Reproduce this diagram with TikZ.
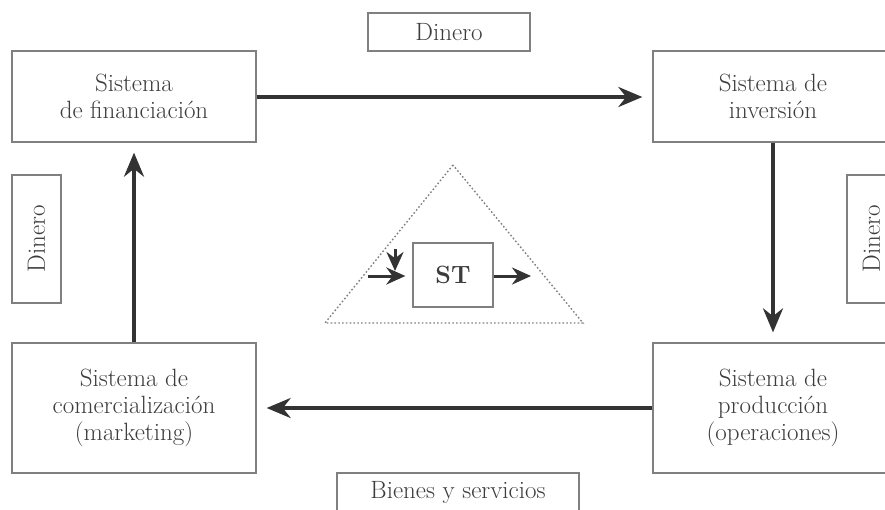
\documentclass[tikz,border=0pt]{standalone}
\usepackage{fontspec}
\setmainfont{Latin Modern Roman}
\usetikzlibrary{arrows.meta}
\definecolor{boxline}{HTML}{808080}
\definecolor{txt}{HTML}{3C3C3C}
\definecolor{arr}{HTML}{333333}
\begin{document}
\begin{tikzpicture}[x=1pt,y=-1pt,
  sysbox/.style={draw=boxline,line width=1.3pt,inner sep=0pt,align=center,text=txt,
    font=\fontsize{25}{27}\selectfont},
  labbox/.style={draw=boxline,line width=1.3pt,inner sep=0pt,align=center,text=txt,
    font=\fontsize{25}{27}\selectfont},
  bigarrow/.style={draw=arr,line width=3.6pt,-{Stealth[length=24pt,width=20pt]},shorten >=10pt},
  smallarrow/.style={draw=arr,line width=3pt,-{Stealth[length=19pt,width=17pt]}}]
\useasboundingbox (0,0) rectangle (885,509);
\clip (0,0) rectangle (885,509);
\node[sysbox,minimum width=244pt,minimum height=91pt] (fin) at (134,96.5) {Sistema\\de financiación};
\node[sysbox,minimum width=240pt,minimum height=91pt] (inv) at (773,96.5) {Sistema de\\inversión};
\node[sysbox,minimum width=244pt,minimum height=130pt] (com) at (134,408) {Sistema de\\comercialización\\(marketing)};
\node[sysbox,minimum width=240pt,minimum height=130pt] (prod) at (773,408) {Sistema de\\producción\\(operaciones)};
\node[labbox,minimum width=162pt,minimum height=38pt] (dtop) at (449,32) {Dinero};
\node[labbox,minimum width=49pt,minimum height=128pt] (dleft) at (36.5,239) {\rotatebox{90}{Dinero}};
\node[labbox,minimum width=49pt,minimum height=128pt] (dright) at (871.5,239) {\rotatebox{90}{Dinero}};
\node[labbox,minimum width=242pt,minimum height=38pt] (bys) at (458,492) {Bienes y servicios};
\coordinate (t1) at (453,165);
\coordinate (t2) at (325,323);
\coordinate (t3) at (583,323);
\draw[boxline,line width=1.4pt,dash pattern=on 1.6pt off 2.2pt] (t1) -- (t2) -- (t3) -- cycle;
\node[draw=boxline,line width=1.3pt,minimum width=80pt,minimum height=64pt,inner sep=0pt,text=txt,
  font=\fontsize{25}{27}\selectfont\bfseries] (st) at (453,275) {ST};
\draw[bigarrow] (fin.east |- 0,97) -- (inv.west |- 0,97);
\draw[bigarrow] (inv.south) -- (prod.north);
\draw[bigarrow] (prod.west) -- (com.east);
\draw[bigarrow] (com.north) -- (fin.south);
\coordinate (ain) at (368,276);
\coordinate (atop) at (395,249);
\coordinate (aout) at (531,276);
\draw[smallarrow,shorten >=7pt] (ain) -- (st.west |- ain);
\draw[smallarrow] (atop) -- (395,271);
\draw[smallarrow] (st.east |- aout) -- (aout);
\end{tikzpicture}
\end{document}
